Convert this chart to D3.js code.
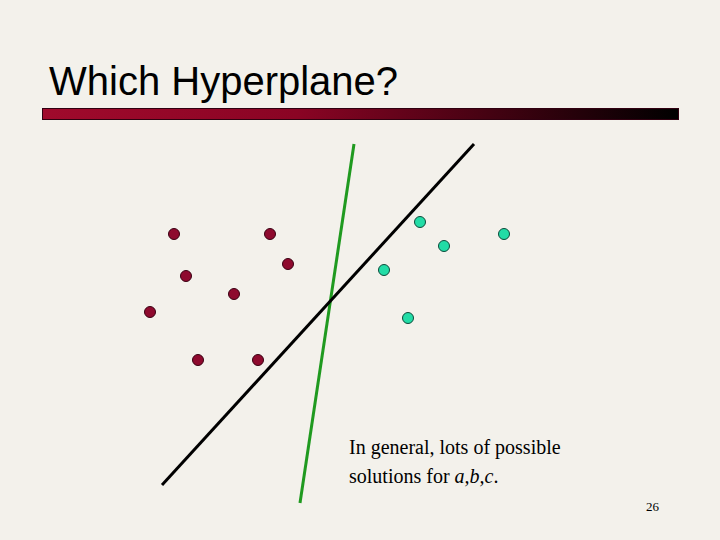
<!DOCTYPE html>
<html><head><meta charset="utf-8">
<script src="https://cdn.jsdelivr.net/npm/d3@7"></script>
<style>html,body{margin:0;padding:0;background:#f3f1eb;}svg{display:block;}</style>
</head><body>
<script>
// Data (abstract units)
const classAx = [2, 10, 3, 11.5, 7, 0, 4, 9];
const classAy = [11.5, 11.5, 8, 9, 6.5, 5, 1, 1];
const classBx = [22.5, 24.5, 29.5, 19.5, 21.5];
const classBy = [12.5, 10.5, 11.5, 8.5, 4.5];
const lineBlack = [[1, -9.42], [27, 19]];
const lineGreen = [[12.5, -10.92], [17, 19]];
const titleText = "Which Hyperplane?";
const noteLines = ["In general, lots of possible", "solutions for "];
const pageNum = "26";

const W = 720, H = 540;
const svg = d3.select("body").append("svg").attr("width", W).attr("height", H);
svg.append("rect").attr("width", W).attr("height", H).attr("fill", "#f3f1eb");

const x = d3.scaleLinear().domain([0, 30]).range([150, 510]);
const y = d3.scaleLinear().domain([0, 12.5]).range([372, 222]);

// title
svg.append("text").attr("x", 49).attr("y", 95)
  .attr("font-family", "Liberation Sans, Arial, sans-serif").attr("font-size", 40)
  .attr("fill", "#000").text(titleText);

// gradient bar
const defs = svg.append("defs");
const g = defs.append("linearGradient").attr("id", "bar").attr("x1", "0%").attr("x2", "100%");
g.append("stop").attr("offset", "0%").attr("stop-color", "#a00a2c");
g.append("stop").attr("offset", "40%").attr("stop-color", "#8a0424");
g.append("stop").attr("offset", "100%").attr("stop-color", "#000000");
svg.append("rect").attr("x", 42.5).attr("y", 108.5).attr("width", 636).attr("height", 11)
  .attr("fill", "url(#bar)").attr("stroke", "#300010").attr("stroke-width", 1);

// lines
const lg = d3.line().x(d => x(d[0])).y(d => y(d[1]));
svg.append("path").attr("d", lg(lineGreen)).attr("stroke", "#1f9a1f").attr("stroke-width", 3).attr("fill", "none");
svg.append("path").attr("d", lg(lineBlack)).attr("stroke", "#000").attr("stroke-width", 3).attr("fill", "none");

// points
const A = classAx.map((v, i) => [v, classAy[i]]);
const B = classBx.map((v, i) => [v, classBy[i]]);
svg.selectAll(".a").data(A).join("circle").attr("class", "a")
  .attr("cx", d => x(d[0])).attr("cy", d => y(d[1])).attr("r", 5.5)
  .attr("fill", "#8e0a2e").attr("stroke", "#3a0012").attr("stroke-width", 1);
svg.selectAll(".b").data(B).join("circle").attr("class", "b")
  .attr("cx", d => x(d[0])).attr("cy", d => y(d[1])).attr("r", 5.5)
  .attr("fill", "#22dca6").attr("stroke", "#0c4a3a").attr("stroke-width", 1);

// note text
const ff = "Liberation Serif, Times New Roman, serif";
svg.append("text").attr("x", 349).attr("y", 454).attr("font-family", ff).attr("font-size", 20)
  .attr("fill", "#000").text(noteLines[0]);
const t2 = svg.append("text").attr("x", 349).attr("y", 483).attr("font-family", ff).attr("font-size", 20).attr("fill", "#000");
t2.append("tspan").text(noteLines[1]);
t2.append("tspan").attr("font-style", "italic").text("a,b,c");
t2.append("tspan").text(".");

svg.append("text").attr("x", 659).attr("y", 511).attr("text-anchor", "end")
  .attr("font-family", ff).attr("font-size", 13).attr("fill", "#000").text(pageNum);
</script>
</body></html>
